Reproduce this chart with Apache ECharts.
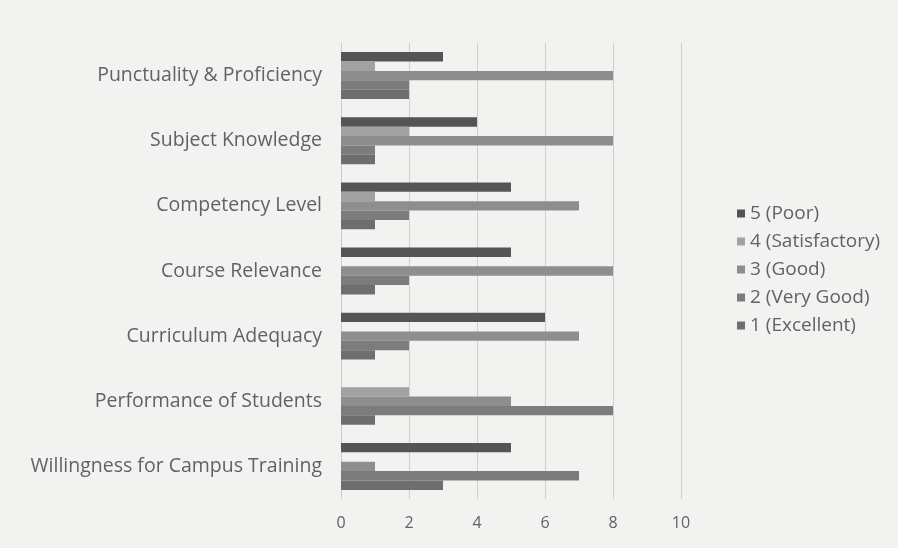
<!DOCTYPE html>
<html>
<head>
<meta charset="utf-8">
<script src="https://cdn.jsdelivr.net/npm/echarts@6/dist/echarts.min.js"></script>
<style>
  html, body { margin: 0; padding: 0; background: #f2f2f0; }
  #chart { width: 898px; height: 548px; }
</style>
</head>
<body>
<div id="chart"></div>
<script>
var categories = [
  'Punctuality & Proficiency',
  'Subject Knowledge',
  'Competency Level',
  'Course Relevance',
  'Curriculum Adequacy',
  'Performance of Students',
  'Willingness for Campus Training'
];
var poor = [3, 4, 5, 5, 6, 0, 5];
var satisfactory = [1, 2, 1, 0, 0, 2, 0];
var good = [8, 8, 7, 8, 7, 5, 1];
var veryGood = [2, 1, 2, 2, 2, 8, 7];
var excellent = [2, 1, 1, 1, 1, 1, 3];
var xTicks = [0, 2, 4, 6, 8, 10];

function drawChart () {
  var chartDom = document.getElementById('chart');
  var myChart = echarts.init(chartDom);
  var option;

  var font = 'Open Sans';
  var textColor = '#626262';

  function bar (name, data, color) {
    return {
      name: name,
      type: 'bar',
      data: data,
      barGap: '0%',
      barCategoryGap: '28%',
      itemStyle: { color: color },
      silent: true
    };
  }

  option = {
    backgroundColor: '#f2f2f0',
    animation: false,
    textStyle: { fontFamily: font },
    grid: { left: 341, right: 217, top: 43, bottom: 49 },
    legend: {
      orient: 'vertical',
      left: 732,
      top: 199,
      itemWidth: 8,
      itemHeight: 8,
      itemGap: 9,
      icon: 'rect',
      textStyle: { fontFamily: font, fontSize: 19, color: textColor },
      data: ['5 (Poor)', '4 (Satisfactory)', '3 (Good)', '2 (Very Good)', '1 (Excellent)']
    },
    xAxis: {
      type: 'value',
      min: xTicks[0],
      max: xTicks[xTicks.length - 1],
      interval: 2,
      axisLine: { show: false },
      axisTick: { show: false },
      axisLabel: { fontFamily: font, fontSize: 16, color: textColor, margin: 16 },
      splitLine: { lineStyle: { color: '#cfcfcf', width: 1 } }
    },
    yAxis: {
      type: 'category',
      data: categories,
      inverse: true,
      axisLine: { show: true, lineStyle: { color: '#cccccc' } },
      axisTick: { show: false },
      axisLabel: { fontFamily: font, fontSize: 19.5, color: textColor, margin: 19 }
    },
    series: [
      bar('5 (Poor)', poor, '#555555'),
      bar('4 (Satisfactory)', satisfactory, '#a2a2a2'),
      bar('3 (Good)', good, '#8e8e8e'),
      bar('2 (Very Good)', veryGood, '#7c7c7c'),
      bar('1 (Excellent)', excellent, '#6e6e6e')
    ]
  };

  option && myChart.setOption(option);
}

drawChart();
</script>
</body>
</html>
